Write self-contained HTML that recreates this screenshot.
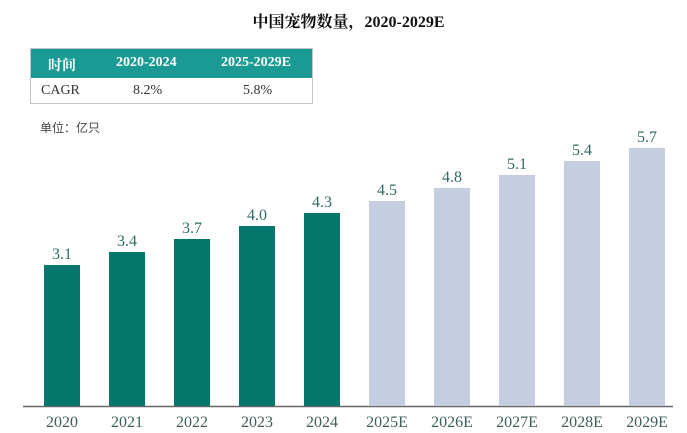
<!DOCTYPE html>
<html><head><meta charset="utf-8"><style>
body{margin:0;background:#fff;width:687px;height:433px;overflow:hidden;position:relative;font-family:"Liberation Serif","Noto Serif CJK SC",serif}
.t{position:absolute}
</style></head><body>
<div class="t" style="left:0;width:687px;top:9px;text-align:center;font-weight:bold;font-size:16px;color:#111;padding-left:10px;box-sizing:border-box">中国宠物数量，2020-2029E</div>
<div class="t" style="left:30px;top:48px;width:283px;height:56px;border:1px solid #bfc8c8;box-sizing:border-box">
 <div style="background:#1a9a92;height:29px;color:#fff;font-weight:bold;font-size:14px;position:relative">
  <span style="position:absolute;left:17px;top:6px">时间</span>
  <span style="position:absolute;left:85px;top:6px">2020-2024</span>
  <span style="position:absolute;left:190px;top:6px">2025-2029E</span>
 </div>
 <div style="position:relative;font-size:14px;color:#333">
  <span style="position:absolute;left:10px;top:5px">CAGR</span>
  <span style="position:absolute;left:102px;top:5px">8.2%</span>
  <span style="position:absolute;left:212px;top:5px">5.8%</span>
 </div>
</div>
<div class="t" style="left:40px;top:119px;font-size:12px;color:#444;font-family:'Noto Sans CJK SC',sans-serif">单位：亿只</div>
<svg class="t" style="left:0;top:0" width="687" height="433">
<line x1="23" y1="406.5" x2="673" y2="406.5" stroke="#666" stroke-width="1.5"/>
<g font-family="Liberation Serif, serif" font-size="16" fill="#2f6b64" text-anchor="middle">
<rect x="44" y="265" width="36" height="141" fill="#05766b"/><text x="62" y="259">3.1</text><text x="62" y="427" fill="#3c5f5a">2020</text>
<rect x="109" y="252" width="36" height="154" fill="#05766b"/><text x="127" y="246">3.4</text><text x="127" y="427" fill="#3c5f5a">2021</text>
<rect x="174" y="239" width="36" height="167" fill="#05766b"/><text x="192" y="233">3.7</text><text x="192" y="427" fill="#3c5f5a">2022</text>
<rect x="239" y="226" width="36" height="180" fill="#05766b"/><text x="257" y="220">4.0</text><text x="257" y="427" fill="#3c5f5a">2023</text>
<rect x="304" y="213" width="36" height="193" fill="#05766b"/><text x="322" y="207">4.3</text><text x="322" y="427" fill="#3c5f5a">2024</text>
<rect x="369" y="201" width="36" height="205" fill="#c5cde0"/><text x="387" y="195">4.5</text><text x="387" y="427" fill="#3c5f5a">2025E</text>
<rect x="434" y="188" width="36" height="218" fill="#c5cde0"/><text x="452" y="182">4.8</text><text x="452" y="427" fill="#3c5f5a">2026E</text>
<rect x="499" y="175" width="36" height="231" fill="#c5cde0"/><text x="517" y="169">5.1</text><text x="517" y="427" fill="#3c5f5a">2027E</text>
<rect x="564" y="161" width="36" height="245" fill="#c5cde0"/><text x="582" y="155">5.4</text><text x="582" y="427" fill="#3c5f5a">2028E</text>
<rect x="629" y="148" width="36" height="258" fill="#c5cde0"/><text x="647" y="142">5.7</text><text x="647" y="427" fill="#3c5f5a">2029E</text>
</g>
</svg>
</body></html>
